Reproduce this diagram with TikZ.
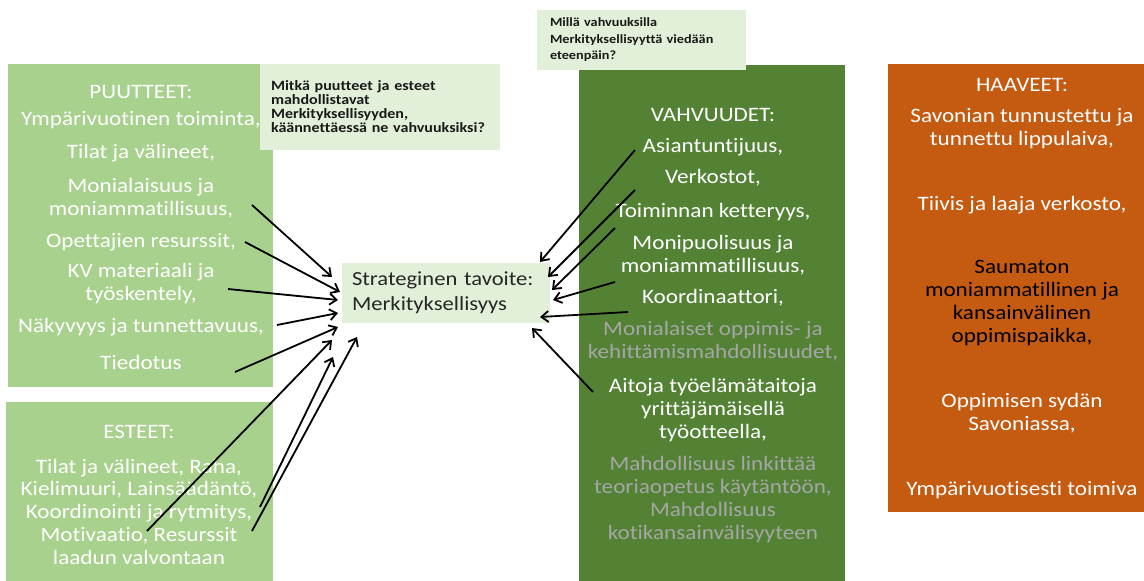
\documentclass[tikz,border=0pt]{standalone}
\usepackage{fontspec}
\setmainfont{Carlito}[FakeStretch=1.13, Ligatures=NoCommon]
\usetikzlibrary{arrows.meta,calc}
\definecolor{lightgreen}{HTML}{A9D18E}
\definecolor{palegreen}{HTML}{E2F0D9}
\definecolor{darkgreen}{HTML}{548235}
\definecolor{rust}{HTML}{C55A11}
\definecolor{softgrey}{HTML}{A6A6A6}
\begin{document}
\begin{tikzpicture}[x=1pt,y=-1pt,
  panel/.style={draw=none, inner sep=0pt, outer sep=0pt, anchor=north west},
  item/.style={text=white, align=center, font=\fontsize{20.5}{23}\selectfont, inner sep=1pt},
  dimitem/.style={item, text=softgrey},
  darkitem/.style={item, text=black},
  question/.style={panel, fill=palegreen, align=left, text=black!90,
    font=\bfseries\fontsize{14.2}{14}\selectfont, inner ysep=0pt},
  link/.style={line width=1.8pt, -{Straight Barb[length=7pt,width=11pt]}}
]
\useasboundingbox (0,0) rectangle (1144,581);

% coloured panels
\node[panel, fill=lightgreen, minimum width=265pt, minimum height=323pt] (needs) at (8,64) {};
\node[panel, fill=lightgreen, minimum width=267pt, minimum height=185pt] (barriers) at (6,402) {};
\node[panel, fill=darkgreen, minimum width=266pt, minimum height=520pt] (strengths) at (579,65) {};
\node[panel, fill=rust, minimum width=260pt, minimum height=448pt] (dreams) at (888,64) {};

% guiding questions
\node[question, minimum width=240pt, minimum height=86pt, text width=218pt, inner xsep=11pt] (q1) at (260,64)
  {Mitkä puutteet ja esteet\\mahdollistavat\\Merkityksellisyyden,\\käännettäessä ne vahvuuksiksi?};
\node[question, minimum width=209pt, minimum height=60pt, text width=183pt, inner xsep=13pt,
  font=\bfseries\fontsize{12.6}{16.5}\selectfont] (q2) at (537,10)
  {Millä vahvuuksilla\\Merkityksellisyyttä viedään\\eteenpäin?};

% goal
\node[fill=palegreen, minimum width=208pt, minimum height=60pt, text width=188pt, inner xsep=10pt,
  align=left, text=black!85, font=\fontsize{20}{25}\selectfont] (goal) at (446,293)
  {Strateginen tavoite:\\Merkityksellisyys};

% needs
\node[item] (p0) at (141,92) {PUUTTEET:};
\node[item] (p1) at (141,120) {Ympärivuotinen toiminta,};
\node[item] (p2) at (141,153) {Tilat ja välineet,};
\node[item] (p3) at (141,198.5) {Monialaisuus ja\\moniammatillisuus,};
\node[item] (p4) at (141,242) {Opettajien resurssit,};
\node[item] (p5) at (141,284) {KV materiaali ja\\työskentely,};
\node[item] (p6) at (141,327) {Näkyvyys ja tunnettavuus,};
\node[item] (p7) at (141,362) {Tiedotus};

% barriers
\node[item] (e0) at (139,432) {ESTEET:};
\node[item, font=\fontsize{20.5}{22.75}\selectfont] (e1) at (139,511.6)
  {Tilat ja välineet, Raha,\\Kielimuuri, Lainsäädäntö,\\Koordinointi ja rytmitys,\\Motivaatio, Resurssit\\laadun valvontaan};

% strengths
\node[item] (v0) at (713,115) {VAHVUUDET:};
\node[item] (v1) at (713,147) {Asiantuntijuus,};
\node[item] (v2) at (713,178) {Verkostot,};
\node[item] (v3) at (713,212) {Toiminnan ketteryys,};
\node[item] (v4) at (713,255) {Monipuolisuus ja\\moniammatillisuus,};
\node[item] (v5) at (713,298) {Koordinaattori,};
\node[dimitem] (v6) at (713,341.5) {Monialaiset oppimis- ja\\kehittämismahdollisuudet,};
\node[item] (v7) at (713,410) {Aitoja työelämätaitoja\\yrittäjämäisellä\\työotteella,};
\node[dimitem] (v8) at (713,500)
  {Mahdollisuus linkittää\\teoriaopetus käytäntöön,\\Mahdollisuus\\kotikansainvälisyyteen};

% dreams
\node[item] (h0) at (1022,85) {HAAVEET:};
\node[item] (h1) at (1022,128.5) {Savonian tunnustettu ja\\tunnettu lippulaiva,};
\node[item] (h2) at (1022,205) {Tiivis ja laaja verkosto,};
\node[darkitem] (h3) at (1022,303) {Saumaton\\moniammatillinen ja\\kansainvälinen\\oppimispaikka,};
\node[item] (h4) at (1022,413.5) {Oppimisen sydän\\Savoniassa,};
\node[item] (h5) at (1022,490) {Ympärivuotisesti toimiva};

% arrows from the needs
\draw[link] ($(p3.center)+(111,6.5)$) -- ($(goal.center)+(-114,-16)$);
\draw[link] ($(p4.center)+(104,0)$) -- ($(goal.center)+(-106,-1)$);
\draw[link] ($(p5.center)+(87,5)$) -- ($(goal.center)+(-108,7)$);
\draw[link] ($(p6.center)+(136,-2)$) -- ($(goal.center)+(-108,20)$);
\draw[link] ($(p7.center)+(94,10)$) -- ($(goal.center)+(-108,34)$);

% arrows from the barriers
\draw[link] ($(e1.center)+(8,19.4)$) -- ($(goal.center)+(-114,47)$);
\draw[link] ($(e1.center)+(121,-4.6)$) -- ($(goal.center)+(-113,64)$);
\draw[link] ($(e1.center)+(113,19.4)$) -- ($(goal.center)+(-89,44)$);

% arrows from the strengths
\draw[link] ($(v1.center)+(-78,3)$) -- ($(goal.center)+(94,-31)$);
\draw[link] ($(v2.center)+(-78,12)$) -- ($(goal.center)+(102,-16)$);
\draw[link] ($(v3.center)+(-98,16)$) -- ($(goal.center)+(106,-3)$);
\draw[link] ($(v4.center)+(-98,27)$) -- ($(goal.center)+(107,7)$);
\draw[link] ($(v5.center)+(-85,14)$) -- ($(goal.center)+(94,24)$);
\draw[link] ($(v7.center)+(-120,-18)$) -- ($(goal.center)+(86,35)$);
\end{tikzpicture}
\end{document}
